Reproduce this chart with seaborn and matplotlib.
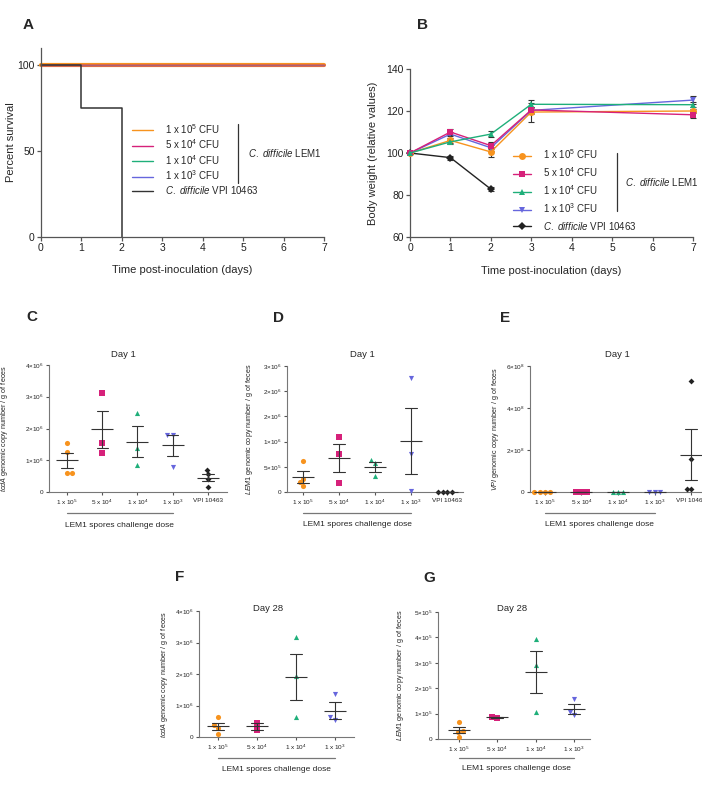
import numpy as np
import pandas as pd
import matplotlib
matplotlib.use("Agg")
import matplotlib.pyplot as plt
import matplotlib.transforms as mtransforms
from matplotlib.lines import Line2D
import seaborn as sns

# ---------------- data ----------------
dose_labels = ["1 x 10$^5$ CFU", "5 x 10$^4$ CFU", "1 x 10$^4$ CFU", "1 x 10$^3$ CFU"]
vpi_label = r"$\it{C.\ difficile}$ VPI 10463"
colors = ["#F7931E", "#D6217A", "#1FAF7A", "#6666DD", "#222222"]
markers_B = ["o", "s", "^", "v", "D"]

# Panel A: survival
surv_days_lem = [0, 7]
surv_lem = [100, 100]
surv_days_vpi = [0, 1, 2]
surv_vpi = [100, 75, 0]

# Panel B: body weight (mean, sem)
days_lem = [0, 1, 2, 3, 7]
days_vpi = [0, 1, 2]
bw_1e5 = [100, 106.0, 100.5, 119.5, 120.0]
bw_5e4 = [100, 110.0, 103.5, 120.5, 118.2]
bw_1e4 = [100, 105.3, 109.0, 123.2, 123.0]
bw_1e3 = [100, 109.0, 102.5, 120.3, 125.2]
bw_vpi = [100, 97.8, 82.8]
sem_1e5 = [0.3, 1.2, 2.5, 4.5, 1.0]
sem_5e4 = [0.3, 1.5, 1.8, 1.5, 1.5]
sem_1e4 = [0.3, 1.0, 1.5, 2.0, 1.2]
sem_1e3 = [0.3, 1.0, 1.5, 1.5, 2.0]
sem_vpi = [0.3, 1.0, 1.0]

# Category tick labels
cat_labels5 = ["1 x 10$^5$", "5 x 10$^4$", "1 x 10$^4$", "1 x 10$^3$", "VPI 10463"]
cat_labels4 = cat_labels5[:4]

# Panel C: tcdA day 1
tcdA_d1_1e5 = [1.53e6, 1.27e6, 0.59e6, 0.59e6]
tcdA_d1_5e4 = [3.12e6, 1.55e6, 1.24e6]
tcdA_d1_1e4 = [2.50e6, 1.40e6, 0.85e6]
tcdA_d1_1e3 = [1.80e6, 1.80e6, 0.80e6]
tcdA_d1_vpi = [0.69e6, 0.56e6, 0.40e6, 0.17e6]

# Panel D: LEM1 day 1
lem1_d1_1e5 = [6.2e5, 2.6e5, 1.9e5, 1.1e5]
lem1_d1_5e4 = [1.10e6, 7.5e5, 1.7e5]
lem1_d1_1e4 = [6.3e5, 5.7e5, 3.1e5]
lem1_d1_1e3 = [2.26e6, 7.5e5, 2.7e4]
lem1_d1_vpi = [0, 0, 0, 0]

# Panel E: VPI day 1
vpi_d1_1e5 = [0, 0, 0, 0]
vpi_d1_5e4 = [0, 0, 0]
vpi_d1_1e4 = [0, 0, 0]
vpi_d1_1e3 = [0, 0, 0]
vpi_d1_vpi = [5.29e8, 1.56e8, 1.4e7, 1.4e7]

# Panel F: tcdA day 28
tcdA_d28_1e5 = [0.62e6, 0.37e6, 0.28e6, 0.08e6]
tcdA_d28_5e4 = [0.46e6, 0.22e6]
tcdA_d28_1e4 = [3.16e6, 1.95e6, 0.63e6]
tcdA_d28_1e3 = [1.35e6, 0.63e6, 0.54e6]

# Panel G: LEM1 day 28
lem1_d28_1e5 = [0.68e5, 0.33e5, 0.28e5, 0.08e5]
lem1_d28_5e4 = [0.84e5, 0.87e5]
lem1_d28_1e4 = [3.93e5, 2.91e5, 1.07e5]
lem1_d28_1e3 = [1.58e5, 1.08e5, 0.93e5]

# ---------------- style ----------------
sns.set_style("ticks")
plt.rcParams["font.family"] = ["Liberation Sans", "DejaVu Sans"]
plt.rcParams["mathtext.fontset"] = "custom"
plt.rcParams["mathtext.rm"] = "Liberation Sans"
plt.rcParams["mathtext.it"] = "Liberation Sans:italic"
plt.rcParams["mathtext.bf"] = "Liberation Sans:bold"
plt.rcParams["axes.edgecolor"] = "#555555"
plt.rcParams["xtick.color"] = "#555555"
plt.rcParams["ytick.color"] = "#555555"
plt.rcParams["xtick.labelcolor"] = "#222222"
plt.rcParams["ytick.labelcolor"] = "#222222"

W, H = 702, 788
fig = plt.figure(figsize=(W / 100, H / 100), dpi=100)
fig.patch.set_facecolor("white")


def add_ax(l, t, r, b):
    return fig.add_axes([l / W, 1 - b / H, (r - l) / W, (b - t) / H])


def style_axes(ax, fs, lw=0.9, tl=3):
    sns.despine(ax=ax)
    for s in ["left", "bottom"]:
        ax.spines[s].set_linewidth(lw)
    ax.tick_params(axis="both", labelsize=fs, width=lw, length=tl, pad=1.5)


# ---------------- Panel A ----------------
axA = add_ax(41, 48, 324, 237)
order_A = [0, 2, 3, 1]
lw_A = {0: 3.0, 1: 2.0, 2: 1.0, 3: 1.0}
alpha_A = {0: 1.0, 1: 0.38, 2: 0.35, 3: 0.35}
for i in order_A:
    sns.lineplot(x=surv_days_lem, y=surv_lem, color=colors[i], linewidth=lw_A[i],
                 alpha=alpha_A[i], drawstyle="steps-post", ax=axA, legend=False)
sns.lineplot(x=surv_days_vpi, y=surv_vpi, color="#333333", linewidth=1.1,
             drawstyle="steps-post", ax=axA, legend=False)
axA.set_xlim(0, 7)
axA.set_ylim(0, 110)
axA.set_xticks(range(8))
axA.set_yticks([0, 50, 100])
style_axes(axA, 7.5)
axA.set_xlabel("Time post-inoculation (days)", fontsize=8)
axA.set_ylabel("Percent survival", fontsize=8)
axA.xaxis.set_label_coords(0.5, -0.15)
axA.yaxis.set_label_coords(-0.09, 0.5)
for ln in axA.lines:
    ln.set_clip_on(False)
hA = [Line2D([], [], color=c, lw=1.0) for c in colors[:4]] + [Line2D([], [], color="#333333", lw=1.0)]
axA.legend(hA, dose_labels + [vpi_label], loc="upper left", bbox_to_anchor=(0.32, 0.61),
           frameon=False, fontsize=7, handlelength=2.2, handletextpad=1.2,
           labelspacing=0.18, borderpad=0, borderaxespad=0)
axA.plot([0.696, 0.696], [0.286, 0.598], color="#333333", lw=0.9, transform=axA.transAxes, clip_on=False)
axA.text(0.73, 0.444, r"$\it{C.\ difficile}$ LEM1", transform=axA.transAxes, fontsize=7, va="center")

# ---------------- Panel B ----------------
axB = add_ax(410, 69, 693, 237)
bw_all = [bw_1e5, bw_5e4, bw_1e4, bw_1e3, bw_vpi]
sem_all = [sem_1e5, sem_5e4, sem_1e4, sem_1e3, sem_vpi]
days_all = [days_lem] * 4 + [days_vpi]
for i in [4, 0, 3, 1, 2]:
    axB.errorbar(days_all[i], bw_all[i], yerr=sem_all[i], fmt="none", ecolor="#333333",
                 elinewidth=0.8, capsize=2.2, capthick=0.8, zorder=2)
    sns.lineplot(x=days_all[i], y=bw_all[i], color=colors[i], marker=markers_B[i],
                 markersize=5 if markers_B[i] != "D" else 4, markeredgewidth=0, linewidth=1.0,
                 ax=axB, legend=False, zorder=3)
axB.set_xlim(0, 7)
axB.set_ylim(60, 140)
axB.set_xticks(range(8))
axB.set_yticks([60, 80, 100, 120, 140])
style_axes(axB, 7.5)
axB.set_xlabel("Time post-inoculation (days)", fontsize=8)
axB.set_ylabel("Body weight (relative values)", fontsize=8)
axB.xaxis.set_label_coords(0.5, -0.17)
axB.yaxis.set_label_coords(-0.112, 0.5)
for art in axB.lines + axB.collections:
    art.set_clip_on(False)
hB = [Line2D([], [], color=colors[i], lw=1.0, marker=markers_B[i],
             markersize=5 if markers_B[i] != "D" else 4, markeredgewidth=0) for i in range(5)]
axB.legend(hB, dose_labels + [vpi_label], loc="upper left", bbox_to_anchor=(0.364, 0.535),
           frameon=False, fontsize=7, handlelength=1.9, handletextpad=1.2,
           labelspacing=0.45, borderpad=0, borderaxespad=0)
axB.plot([0.731, 0.731], [0.155, 0.50], color="#333333", lw=0.9, transform=axB.transAxes, clip_on=False)
axB.text(0.76, 0.327, r"$\it{C.\ difficile}$ LEM1", transform=axB.transAxes, fontsize=7, va="center")


# ---------------- Category panels ----------------
def cat_panel(ax, groups, cols, marks, ticklabels, ylim, yticks, yticklabels, ylabel,
              title, title_xy, xlim, ylab_x, line_y, text_y):
    names = [str(i) for i in range(len(groups))]
    df = pd.DataFrame({"g": np.concatenate([[n] * len(v) for n, v in zip(names, groups)]),
                       "v": np.concatenate([np.asarray(v, float) for v in groups])})
    for n, c, m in zip(names, cols, marks):
        sub = df[df["g"] == n]
        sns.swarmplot(data=sub, x="g", y="v", order=names, color=c, marker=m,
                      size=3.7 if m != "D" else 3.0, linewidth=0, ax=ax, zorder=3, warn_thresh=1)
    sns.pointplot(data=df, x="g", y="v", order=names, errorbar="se", capsize=0.32,
                  color="#333333", marker="_", markersize=16, markeredgewidth=0.8,
                  linestyle="none", err_kws={"linewidth": 0.8}, ax=ax, zorder=4)
    for art in ax.collections + ax.lines:
        art.set_clip_on(False)
    ax.set_xlim(*xlim)
    ax.set_ylim(*ylim)
    ax.set_xticks(range(len(groups)))
    ax.set_xticklabels(ticklabels)
    ax.set_yticks(yticks)
    ax.set_yticklabels(yticklabels)
    style_axes(ax, 4.6, lw=0.8, tl=2.5)
    ax.spines["left"].set_color("#777777")
    ax.spines["bottom"].set_color("#777777")
    ax.set_xlabel("")
    ax.set_ylabel(ylabel, fontsize=5.2)
    ax.yaxis.set_label_coords(ylab_x, 0.5)
    ax.text(title_xy[0], title_xy[1], title, transform=ax.transAxes, fontsize=6.8,
            ha="center", va="center")
    tr = mtransforms.blended_transform_factory(ax.transData, ax.transAxes)
    ax.plot([0, 3], [line_y, line_y], color="#777777", lw=0.9, transform=tr, clip_on=False)
    ax.text(1.5, text_y, "LEM1 spores challenge dose", transform=tr, fontsize=6,
            ha="center", va="center")


col5 = colors
mk5 = ["o", "s", "^", "v", "D"]

axC = add_ax(49, 365, 227, 492)
cat_panel(axC, [tcdA_d1_1e5, tcdA_d1_5e4, tcdA_d1_1e4, tcdA_d1_1e3, tcdA_d1_vpi], col5, mk5,
          cat_labels5, (0, 4e6), [0, 1e6, 2e6, 3e6, 4e6],
          ["0", "1×10$^6$", "2×10$^6$", "3×10$^6$", "4×10$^6$"],
          r"$\it{tcdA}$ genomic copy number / g of feces", "Day 1", (0.416, 1.08),
          (-0.51, 4.54), -0.22, -0.165, -0.26)

axD = add_ax(287, 366, 463, 492)
cat_panel(axD, [lem1_d1_1e5, lem1_d1_5e4, lem1_d1_1e4, lem1_d1_1e3, lem1_d1_vpi], col5, mk5,
          cat_labels5, (0, 2.5e6), [0, 5e5, 1e6, 1.5e6, 2e6, 2.5e6],
          ["0", "5×10$^5$", "1×10$^6$", "2×10$^6$", "2×10$^6$", "3×10$^6$"],
          r"$\it{LEM1}$ genomic copy number / g of feces", "Day 1", (0.43, 1.09),
          (-0.44, 4.44), -0.18, -0.167, -0.26)

axE = add_ax(530, 366, 702, 492)
cat_panel(axE, [vpi_d1_1e5, vpi_d1_5e4, vpi_d1_1e4, vpi_d1_1e3, vpi_d1_vpi], col5, mk5,
          cat_labels5, (0, 6e8), [0, 2e8, 4e8, 6e8],
          ["0", "2×10$^8$", "4×10$^8$", "6×10$^8$"],
          r"$\it{VPI}$ genomic copy number / g of feces", "Day 1", (0.506, 1.09),
          (-0.41, 4.30), -0.17, -0.167, -0.255)

axF = add_ax(199, 611, 354, 737)
cat_panel(axF, [tcdA_d28_1e5, tcdA_d28_5e4, tcdA_d28_1e4, tcdA_d28_1e3], col5[:4], mk5[:4],
          cat_labels4, (0, 4e6), [0, 1e6, 2e6, 3e6, 4e6],
          ["0", "1×10$^6$", "2×10$^6$", "3×10$^6$", "4×10$^6$"],
          r"$\it{tcdA}$ genomic copy number / g of feces", "Day 28", (0.445, 1.02),
          (-0.49, 3.49), -0.19, -0.167, -0.254)

axG = add_ax(438, 612, 590, 739)
cat_panel(axG, [lem1_d28_1e5, lem1_d28_5e4, lem1_d28_1e4, lem1_d28_1e3], col5[:4], mk5[:4],
          cat_labels4, (0, 5e5), [0, 1e5, 2e5, 3e5, 4e5, 5e5],
          ["0", "1×10$^5$", "2×10$^5$", "3×10$^5$", "4×10$^5$", "5×10$^5$"],
          r"$\it{LEM1}$ genomic copy number / g of feces", "Day 28", (0.49, 1.03),
          (-0.55, 3.42), -0.21, -0.15, -0.236)

# panel letters
for lab, x, y in [("A", 28, 25), ("B", 423, 25), ("C", 32, 317), ("D", 279, 318),
                  ("E", 505, 318), ("F", 180, 577), ("G", 429, 578)]:
    fig.text(x / W, 1 - y / H, lab, fontsize=11, fontweight="bold", ha="center", va="center")

fig.savefig("out.png", dpi=100, facecolor="white")
